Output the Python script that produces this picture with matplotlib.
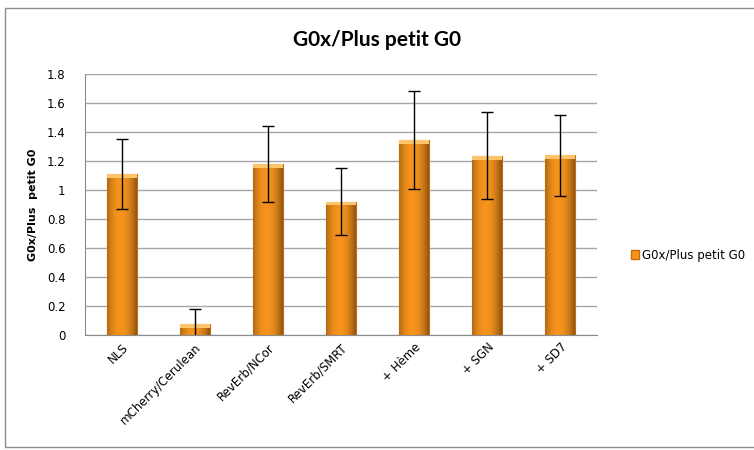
import matplotlib.pyplot as plt
import numpy as np
from matplotlib.patches import Rectangle

categories = ["NLS", "mCherry/Cerulean", "RevErb/NCor", "RevErb/SMRT",
              "+ Hème", "+ SGN", "+ SD7"]
values = [1.11, 0.076, 1.18, 0.92, 1.345, 1.235, 1.24]
errors = [0.24, 0.10, 0.26, 0.23, 0.34, 0.30, 0.28]
series_name = "G0x/Plus petit G0"

fig = plt.figure(figsize=(7.54, 4.5), dpi=100)
ax = fig.add_axes([85 / 754, 1 - 335 / 450, (597 - 85) / 754, (335 - 74) / 450])

# outer chart frame
fig.patches.append(Rectangle((5 / 754, 3 / 450), 760 / 754, 439 / 450,
                             transform=fig.transFigure, fill=False,
                             edgecolor="#8c8c8c", linewidth=1.0))

x = np.arange(len(categories))
width = 0.41
bars = ax.bar(x, values, width, color="#F7941D", edgecolor="#C86A14",
              linewidth=0.8, label=series_name, zorder=3)

# horizontal shading to mimic the cylinder-ish Excel look
grad = np.linspace(0, 1, 64)
shade = 1 - 0.35 * (np.abs(grad - 0.45) * 2) ** 2
cmap_img = np.zeros((1, 64, 3))
base = np.array([247, 148, 29]) / 255
for i, s in enumerate(shade):
    cmap_img[0, i] = base * s
for b in bars:
    x0, y0 = b.get_x(), b.get_y()
    w, h = b.get_width(), b.get_height()
    im = ax.imshow(cmap_img, extent=[x0, x0 + w, y0, y0 + h], aspect="auto",
                   zorder=3.5, interpolation="bicubic")
    im.set_clip_path(b)
    # lighter top cap
    ax.add_patch(Rectangle((x0, y0 + h - 0.025), w, 0.025, facecolor="#FDC46A",
                           edgecolor="none", zorder=3.6))

ax.errorbar(x, values, yerr=errors, fmt="none", ecolor="black",
            elinewidth=1.0, capsize=4, capthick=1.0, zorder=4)

ax.set_xlim(-0.5, len(categories) - 0.5)
ax.set_ylim(0, 1.8)
ax.set_yticks(np.arange(0, 1.81, 0.2))
ax.set_yticklabels(["0", "0.2", "0.4", "0.6", "0.8", "1", "1.2", "1.4", "1.6", "1.8"])
ax.yaxis.grid(True, color="#A6A6A6", linewidth=1.0, zorder=0)
ax.set_axisbelow(True)

for side in ["top", "right"]:
    ax.spines[side].set_visible(False)
for side in ["left", "bottom"]:
    ax.spines[side].set_color("#8c8c8c")
ax.tick_params(axis="y", length=0, labelsize=8.5, pad=14)
ax.tick_params(axis="x", length=0, labelsize=8.5, pad=4)
ax.set_xticks(x)
ax.set_xticklabels(categories, rotation=45, ha="right", rotation_mode="anchor")

ax.set_ylabel("G0x/Plus  petit G0", fontsize=8, fontweight="bold", labelpad=6)

fig.text(377 / 754, 1 - 40 / 450, "G0x/Plus petit G0", ha="center", va="center",
         fontsize=15, fontweight="bold", family="Lato")

fig.legend(handles=[Rectangle((0, 0), 1, 1, facecolor="#F7941D", edgecolor="#C86A14")],
           labels=[series_name], loc="center left",
           bbox_to_anchor=(620 / 754, 1 - 255 / 450), frameon=False,
           fontsize=8.5, handlelength=0.7, handleheight=0.7, handletextpad=0.3)

fig.savefig("out.png", dpi=100)
